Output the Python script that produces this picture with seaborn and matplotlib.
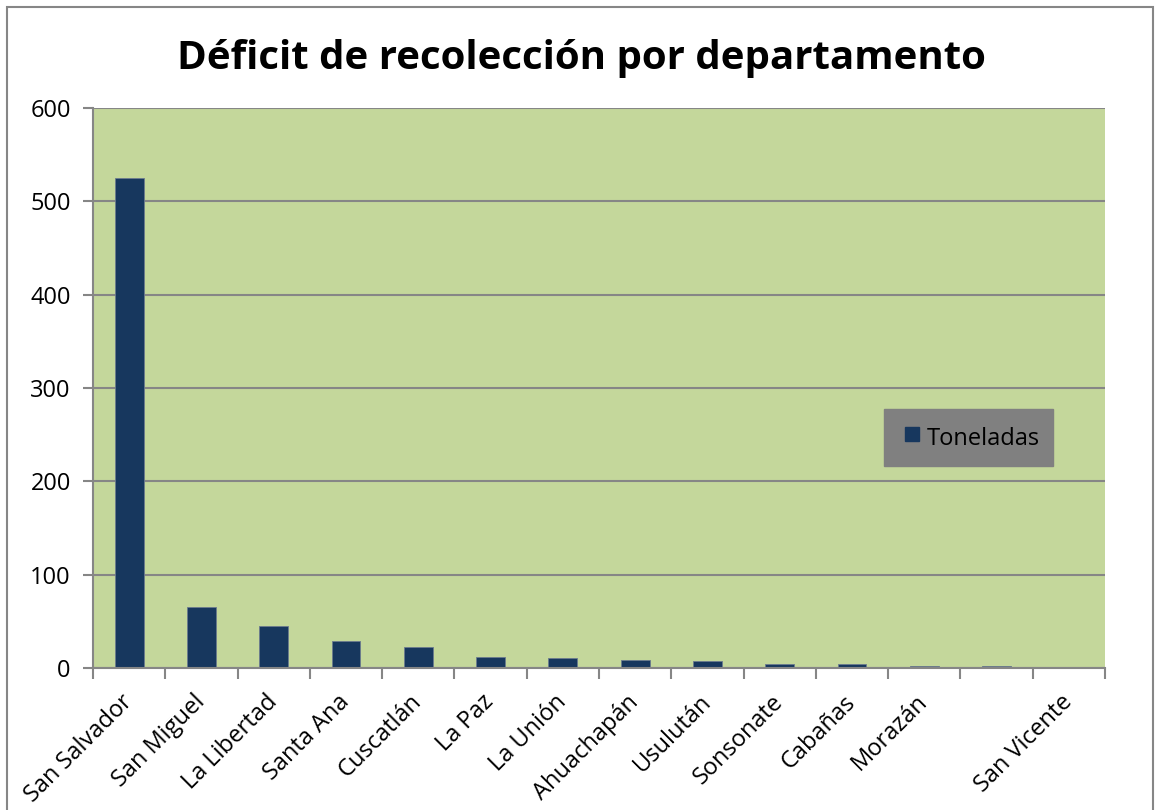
import matplotlib
matplotlib.use("Agg")
import matplotlib.pyplot as plt
import seaborn as sns
import pandas as pd
from matplotlib.patches import Rectangle
from matplotlib.lines import Line2D

departamentos = ["San Salvador", "San Miguel", "La Libertad", "Santa Ana", "Cuscatlán",
                 "La Paz", "La Unión", "Ahuachapán", "Usulután", "Sonsonate",
                 "Cabañas", "Morazán", "", "San Vicente"]
toneladas = [525, 65, 45, 29, 23, 12, 10.5, 9, 8, 4.8, 4.3, 2.2, 2.1, 0]

sns.set_style("white")
plt.rcParams['font.family'] = ['Open Sans', 'DejaVu Sans']
plt.rcParams['text.color'] = 'black'
plt.rcParams['xtick.color'] = 'black'
plt.rcParams['ytick.color'] = 'black'

bar_color = "#17375E"
df = pd.DataFrame({"departamento": [f"{i}" for i in range(len(departamentos))],
                   "Toneladas": toneladas})

fig = plt.figure(figsize=(11.57, 8.10), dpi=100)
ax = fig.add_axes([93/1157, 1 - 668/810, (1105-93)/1157, (668-108)/810])

sns.barplot(data=df, x="departamento", y="Toneladas", color=bar_color, width=0.4,
            edgecolor="#6b7b8f", linewidth=0.6, saturation=1, ax=ax)

ax.set_facecolor("#C4D79B")
ax.set_xlim(-0.5, len(departamentos) - 0.5)
ax.set_ylim(0, 600)
ax.set_yticks(range(0, 601, 100))
ax.yaxis.grid(True, color="#868686", linewidth=1.5)
ax.set_axisbelow(True)
ax.set_xlabel("")
ax.set_ylabel("")

ax.set_xticks(range(len(departamentos)))
ax.set_xticklabels(departamentos, rotation=45, ha="right", va="center",
                   rotation_mode="anchor", fontsize=17)
ax.set_xticks([i - 0.5 for i in range(len(departamentos) + 1)], minor=True)
ax.tick_params(axis="x", which="major", length=0, pad=22)
ax.tick_params(axis="x", which="minor", length=8, width=1.5, color="#868686", direction="out", bottom=True)
ax.tick_params(axis="y", length=7, width=1.5, color="#868686", labelcolor="black",
               direction="out", labelsize=17, pad=9, left=True)

for side in ["top", "right"]:
    ax.spines[side].set_visible(False)
for side in ["left", "bottom"]:
    ax.spines[side].set_color("#868686")
    ax.spines[side].set_linewidth(1.5)

handle = Line2D([], [], marker="s", linestyle="none", color=bar_color, markersize=9.4)
leg = ax.legend([handle], ["Toneladas"], loc="center",
                bbox_to_anchor=((968.5-93)/1012, (668-437.5)/560), fontsize=17,
                frameon=True, fancybox=False, facecolor="#808080", edgecolor="#808080",
                framealpha=1, handlelength=1.23, handleheight=1.6, handletextpad=0.0,
                borderpad=0.55, borderaxespad=0, numpoints=1)
for t in leg.get_texts():
    t.set_color("black")

fig.suptitle("Déficit de recolección por departamento", fontsize=29, fontweight="bold",
             color="black", x=581/1157, y=1 - 58/810, va="center")

fig.patches.append(Rectangle((7/1157, -0.01), (1153-7)/1157, (803)/810 + 0.01,
                             transform=fig.transFigure, fill=False,
                             edgecolor="#868686", linewidth=1.5))

fig.savefig("out.png", dpi=100)
